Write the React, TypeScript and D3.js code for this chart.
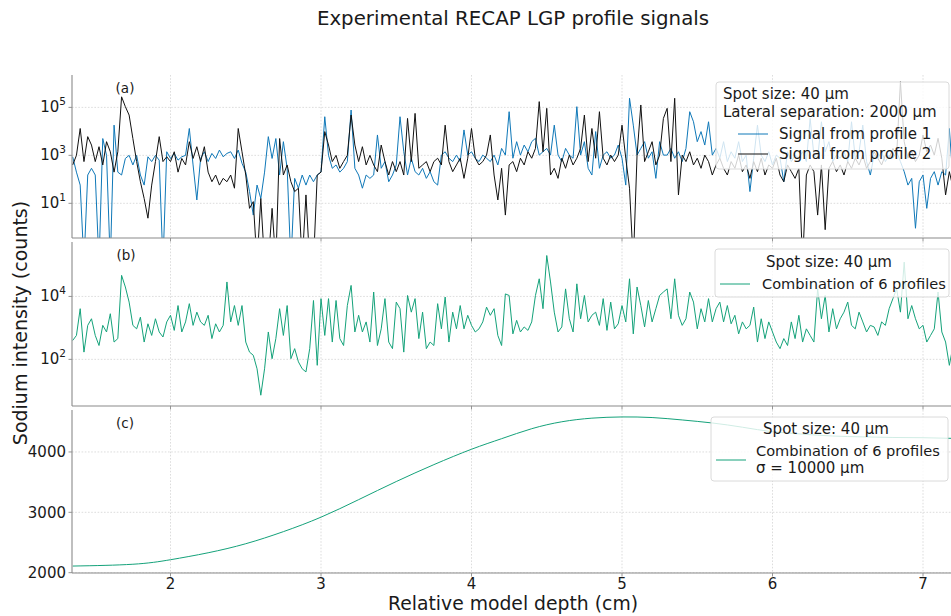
import React from "react";
import * as d3 from "d3";

// ---------------- DATA ----------------
// Sampling of the profiles along the relative model depth (cm)
const DEPTH_START = 1.35;
const DEPTH_STEP = 0.025;

// log10(counts) of signal from profile 1 (values below the axis = dropouts)
const profile1Log = [
  2.94, 2.3, 1.76, -1.5, 2.18, 2.46, 2.18, -1.5, 3.7, 3.0,
  -1.5, 4.26, 2.3, 2.18, 2.87, 3.0, 2.6, 3.0, 2.18, 1.76,
  2.94, 2.74, 3.0, 2.8, -1.5, 3.15, 2.87, 3.08, 2.8, 2.94,
  3.0, 4.12, 2.6, 1.14, 2.87, 3.15, 2.74, 3.08, 2.87, 3.22,
  2.94, 3.08, 3.15, 2.87, 3.22, 2.67, 2.3, 1.49, 0.51, 1.76,
  1.2, 2.3, 3.78, 2.87, 3.7, 2.18, 3.57, 2.46, -1.5, 2.04,
  1.63, 2.18, 1.76, 2.18, 1.9, 2.18, 2.3, 4.61, 3.0, 2.46,
  2.6, 2.3, 2.46, 2.74, 4.89, 2.46, 2.18, 1.63, 2.18, 2.04,
  2.18, 3.85, 2.46, 2.74, 1.9, 2.18, 2.6, 4.61, 3.15, 2.18,
  2.88, 2.32, 2.18, 2.46, 2.04, 2.32, 1.9, 1.76, 3.01, 3.15,
  2.88, 2.74, 3.01, 2.74, 4.06, 3.01, 3.15, 2.88, 2.74, 3.01,
  2.88, 2.74, 3.01, 2.6, 3.29, 3.01, 4.82, 2.88, 3.57, 3.01,
  3.43, 3.15, 3.57, 3.71, 3.01, 3.15, 3.29, 3.01, 4.26, 3.01,
  2.74, 3.29, 3.01, 2.88, 5.03, 3.01, 3.57, 2.46, 2.18, 3.99,
  2.46, 3.01, 3.15, 2.88, 3.01, 3.43, 2.88, 1.76, 5.38, 4.26,
  3.01, 3.29, 3.57, 2.88, 3.15, 2.04, 3.57, 3.01,
  3.01, 3.29, 2.88, 3.15, 2.74, 3.29, 4.82, 4.4, 3.57, 3.99,
  3.43, 4.4, 3.01, 3.29, 2.88, 3.57, 2.74, 3.15, 2.88, 3.57,
  2.74, 3.01, 1.49, 2.88, 4.26, 3.01, 2.74, 3.15, 2.6, 3.01,
  2.88, 1.9, 3.15, 2.74, 3.01, 2.88, 3.15, 2.74, 4.54, 3.01,
  2.88, 4.4, 3.15, 3.57, 2.74, 3.01, 2.88, 3.15, 2.74, 4.4,
  2.88, 3.15, 4.26, 2.74, 2.18, 3.01, 2.88, 3.15, 2.74, 3.01,
  2.88, 3.15, 2.74, 2.32, 1.76, 2.04, -0.04, 1.9, 2.18, 0.79,
  2.04, 2.32, 1.76, 2.32, 2.18, 4.12, 1.9,
];

// log10(counts) of signal from profile 2
const profile2Log = [
  2.6, 3.0, 4.12, 2.74, 3.78, 3.43, 2.74, 3.36, 2.6, 3.57,
  3.15, 2.3, 3.15, 5.44, 5.03, 4.68, 3.7, 2.74, 1.9, 1.2,
  0.38, 1.76, 2.74, 3.78, 2.74, 2.94, 2.74, 3.15, 2.3, 2.87,
  2.6, 3.57, 2.87, 3.36, 2.74, 3.36, 2.3, 1.9, 2.18, 1.76,
  2.04, 1.9, 2.18, 1.63, 4.12, 3.15, 2.18, 0.79, 1.07, -1.5,
  1.2, -1.5, -1.5, 0.79, -1.5, 3.7, 2.18, 2.6, 1.9, 1.49,
  1.63, -1.5, 1.35, -1.5, -1.5, 2.18, 2.3, 3.99, 3.43, 2.74,
  3.0, 2.46, 2.74, 3.0, 4.68, 3.43, 2.74, 3.36, 2.6, 3.0,
  2.6, 2.32, 3.43, 2.74, 2.18, 2.74, 2.32, 2.74, 2.18, 4.54,
  2.74, 4.75, 2.46, 2.6, 2.74, 2.32, 2.74, 2.88, 2.6, 4.26,
  2.74, 2.32, 2.6, 2.88, 2.04, 2.88, 4.12, 2.88, 2.6, 2.74,
  3.01, 3.85, 2.18, 1.14, 2.46, 0.51, 2.6, 2.74, 2.32, 2.88,
  2.6, 3.15, 2.88, 3.29, 5.24, 3.15, 4.96, 2.18, 2.46, 2.04,
  2.88, 2.46, 3.01, 2.6, 2.88, 3.29, 4.68, 2.74, 4.12, 2.88,
  4.82, 2.88, 2.6, 3.01, 2.74, 3.01, 4.26, 2.88, 1.63, -1.5,
  3.01, 5.1, 2.74, 3.15, 3.57, 2.6, 3.01, 4.54,
  4.96, 2.74, 5.38, 1.35, 3.01, 2.74, 3.15, 2.6, 2.88, 2.46,
  3.01, 2.74, 2.18, 2.6, 2.88, 2.46, 2.18, 2.74, 2.46, 3.01,
  2.32, 2.6, 2.04, 2.74, 2.32, 2.88, 2.18, 2.6, 2.46, 2.88,
  2.18, 1.9, 2.6, 2.32, 2.04, 2.46, -1.5, 2.18, 2.6, 2.32,
  0.51, 2.6, -0.1, 2.46, 2.74, 2.32, 2.6, 2.18, 2.74, 2.46,
  2.88, 2.6, 3.01, 2.46, 2.74, 3.15, 2.88, 2.6, 3.01, 2.88,
  3.29, 3.01, 6.07, 3.57, 2.88, 3.15, 2.74, 3.01, 3.85, 3.15,
  3.43, 3.01, 3.71, 2.88, 1.35, 2.32, 1.63,
];

// log10(counts) of the combination of 6 profiles
const combinedLog = [
  2.6, 2.76, 3.61, 2.23, 3.08, 3.29, 2.76, 2.44, 3.08, 2.87,
  3.45, 2.55, 2.66, 4.67, 4.3, 3.82, 3.08, 2.97, 3.34, 2.55,
  3.13, 2.76, 3.29, 2.87, 2.71, 3.19, 3.4, 2.92, 3.71, 2.87,
  3.19, 3.77, 3.08, 3.5, 3.19, 3.08, 3.4, 2.66, 3.13, 2.87,
  3.08, 4.46, 3.19, 3.71, 3.08, 3.71, 2.55, 2.23, 2.13, 1.7,
  0.86, 1.7, 2.87, 2.02, 2.66, 3.61, 2.76, 3.71, 2.02, 2.34,
  1.92, 1.7, 1.6, 2.34, 3.87, 1.81, 3.93, 2.76, 3.93, 2.55,
  3.87, 2.66, 2.44, 3.71, 4.35, 2.87, 3.4, 2.87, 3.19, 2.55,
  4.14, 2.44, 2.97, 3.93, 2.55, 2.34, 3.82, 3.61, 2.23, 4.03,
  3.5, 3.93, 2.66, 3.5, 2.34, 2.55, 2.44, 3.77, 2.97, 3.98,
  2.55, 3.5, 2.97, 3.71, 2.97, 3.4, 3.08, 2.87, 2.97, 3.19,
  3.66, 3.4, 3.61, 2.76, 2.44, 4.08, 4.03, 2.81, 3.24, 2.87,
  3.03, 2.92, 3.19, 4.03, 4.56, 3.61, 5.3, 4.46, 3.5, 2.87,
  3.03, 4.24, 3.29, 2.87, 4.4, 3.29, 4.03, 3.19, 3.4, 3.5,
  3.08, 3.93, 2.92, 3.82, 2.97, 3.13, 3.71, 3.19, 4.56, 2.81,
  4.3, 3.71, 3.03, 3.87, 3.19, 3.61, 4.03, 4.14,
  4.24, 3.29, 4.56, 3.4, 3.08, 3.29, 4.14, 3.82, 2.97, 3.61,
  3.19, 3.93, 3.19, 3.61, 3.82, 3.19, 3.71, 3.13, 3.4, 2.81,
  3.19, 2.97, 3.08, 3.66, 2.55, 3.29, 2.66, 3.19, 2.87, 2.55,
  2.34, 2.66, 2.44, 3.19, 2.66, 3.4, 2.55, 2.97, 2.76, 2.55,
  4.24, 3.29, 4.03, 2.87, 3.61, 2.97, 3.29, 3.5, 3.82, 3.08,
  2.97, 3.5, 3.19, 2.87, 3.08, 3.03, 2.76, 3.19, 3.08, 3.61,
  3.93, 4.24, 3.5, 5.09, 3.29, 3.71, 3.29, 2.97, 3.08, 2.55,
  2.76, 2.97, 4.14, 2.87, 2.55, 1.81, 2.44,
];

// Gaussian-smoothed combination (sigma = 10000 µm)
const smoothDepth = [1.35, 1.75, 2.0, 2.25, 2.5, 2.75, 3.0, 3.25, 3.5, 3.75, 4.0, 4.2, 4.4, 4.6, 4.8, 5.0, 5.2, 5.4, 5.6, 5.8, 6.0, 6.2, 6.4, 6.6, 6.8, 7.0, 7.2];
const smoothCounts = [2110, 2140, 2215, 2330, 2480, 2680, 2920, 3210, 3510, 3790, 4045, 4220, 4385, 4500, 4560, 4580, 4570, 4530, 4480, 4410, 4335, 4295, 4264, 4250, 4240, 4236, 4225];

const xTickValues = [2, 3, 4, 5, 6, 7];
const panelAExponents = [1, 3, 5];
const panelBExponents = [2, 4];
const panelCTicks = [2000, 3000, 4000];

const TITLE = "Experimental RECAP LGP profile signals";
const X_LABEL = "Relative model depth (cm)";
const Y_LABEL = "Sodium intensity (counts)";

// ---------------- STYLE ----------------
const FONT = "DejaVu Sans, sans-serif";
const BLUE = "#0f78b8";
const BLACK = "#111111";
const GREEN = "#14a27a";
const SPINE = "#8a8a8a";
const GRID = "#d4d4d4";
const TEXT = "#1a1a1a";

type Pt = [number, number];

export default function App() {
  const left = 72;
  const right = 951;
  const x = d3.scaleLinear().domain([1.3455, 7.186]).range([left, right]);

  const panelA = { top: 75, bottom: 238 };
  const panelB = { top: 242, bottom: 406 };
  const panelC = { top: 410, bottom: 573 };

  const yA = d3.scaleLog().domain([Math.pow(10, -0.446), Math.pow(10, 6.35)]).range([panelA.bottom, panelA.top]);
  const yB = d3.scaleLog().domain([Math.pow(10, 0.517), Math.pow(10, 5.73)]).range([panelB.bottom, panelB.top]);
  const yC = d3.scaleLinear().domain([1995, 4695]).range([panelC.bottom, panelC.top]);

  const toPts = (logs: number[]): Pt[] =>
    logs.map((v, i) => [DEPTH_START + DEPTH_STEP * i, Math.pow(10, v)]);

  const lineA = d3.line<Pt>().x((d) => x(d[0])).y((d) => yA(d[1]));
  const lineB = d3.line<Pt>().x((d) => x(d[0])).y((d) => yB(d[1]));
  const lineC = d3
    .line<Pt>()
    .x((d) => x(d[0]))
    .y((d) => yC(d[1]))
    .curve(d3.curveNatural);

  const p1 = lineA(toPts(profile1Log)) || "";
  const p2 = lineA(toPts(profile2Log)) || "";
  const pb = lineB(toPts(combinedLog)) || "";
  const pc = lineC(smoothDepth.map((d, i) => [d, smoothCounts[i]] as Pt)) || "";

  const xGrid = (p: { top: number; bottom: number }) =>
    xTickValues.map((t) => (
      <line key={"xg" + t} x1={x(t)} x2={x(t)} y1={p.top} y2={p.bottom} stroke={GRID} strokeWidth={0.8} strokeDasharray="1.6,1.6" />
    ));
  const xTickMarks = (p: { top: number; bottom: number }) =>
    xTickValues.map((t) => (
      <line key={"xt" + t} x1={x(t)} x2={x(t)} y1={p.bottom} y2={p.bottom + 3.5} stroke={SPINE} strokeWidth={0.9} />
    ));
  const spines = (p: { top: number; bottom: number }) => (
    <g>
      <line x1={left} x2={left} y1={p.top} y2={p.bottom} stroke={SPINE} strokeWidth={1.1} />
      <line x1={left} x2={right} y1={p.bottom} y2={p.bottom} stroke={SPINE} strokeWidth={1.1} />
    </g>
  );

  const logTicks = (exps: number[], y: d3.ScaleLogarithmic<number, number>) =>
    exps.map((e) => {
      const yy = y(Math.pow(10, e));
      return (
        <g key={"lt" + e}>
          <line x1={left} x2={right} y1={yy} y2={yy} stroke={GRID} strokeWidth={0.8} strokeDasharray="1.6,1.6" />
          <line x1={left - 3.5} x2={left} y1={yy} y2={yy} stroke={SPINE} strokeWidth={0.9} />
          <text x={left - 6} y={yy + 5} textAnchor="end" fontSize={15} fill={TEXT} fontFamily={FONT}>
            10<tspan fontSize={10.5} dy={-7}>{e}</tspan>
          </text>
        </g>
      );
    });

  const legendBox = (x0: number, y0: number, w: number, h: number) => (
    <rect x={x0} y={y0} width={w} height={h} rx={3} fill="white" fillOpacity={0.8} stroke="#d6d6d6" strokeWidth={0.9} />
  );

  return (
    <svg width={951} height={616} style={{ position: "absolute", left: 0, top: 0, background: "white" }} fontFamily={FONT}>
      <defs>
        <clipPath id="clipA"><rect x={left} y={panelA.top} width={right - left} height={panelA.bottom - panelA.top} /></clipPath>
        <clipPath id="clipB"><rect x={left} y={panelB.top} width={right - left} height={panelB.bottom - panelB.top} /></clipPath>
        <clipPath id="clipC"><rect x={left} y={panelC.top} width={right - left} height={panelC.bottom - panelC.top} /></clipPath>
      </defs>
      <rect x={0} y={0} width={951} height={616} fill="white" />

      <text x={513} y={25} textAnchor="middle" fontSize={19.8} fill={TEXT}>{TITLE}</text>

      {/* Panel (a) */}
      {xGrid(panelA)}
      {logTicks(panelAExponents, yA)}
      <g clipPath="url(#clipA)">
        <path d={p1} fill="none" stroke={BLUE} strokeWidth={1} />
        <path d={p2} fill="none" stroke={BLACK} strokeWidth={1} />
      </g>
      {spines(panelA)}
      {xTickMarks(panelA)}
      <text x={125} y={93} textAnchor="middle" fontSize={13.5} fill={TEXT}>(a)</text>
      {legendBox(716, 82, 233, 87)}
      <text x={723} y={99} fontSize={15} fill={TEXT}>Spot size: 40 µm</text>
      <text x={723} y={117} fontSize={15} fill={TEXT}>Lateral separation: 2000 µm</text>
      <line x1={738} x2={768} y1={134} y2={134} stroke={BLUE} strokeWidth={1} />
      <text x={779} y={139} fontSize={15} fill={TEXT}>Signal from profile 1</text>
      <line x1={738} x2={768} y1={154} y2={154} stroke={BLACK} strokeWidth={1} />
      <text x={779} y={159} fontSize={15} fill={TEXT}>Signal from profile 2</text>

      {/* Panel (b) */}
      {xGrid(panelB)}
      {logTicks(panelBExponents, yB)}
      <g clipPath="url(#clipB)">
        <path d={pb} fill="none" stroke={GREEN} strokeWidth={1} />
      </g>
      {spines(panelB)}
      {xTickMarks(panelB)}
      <text x={126} y={260} textAnchor="middle" fontSize={13.5} fill={TEXT}>(b)</text>
      {legendBox(715, 249, 234, 48)}
      <text x={829} y={267} textAnchor="middle" fontSize={15} fill={TEXT}>Spot size: 40 µm</text>
      <line x1={720} x2={750} y1={284} y2={284} stroke={GREEN} strokeWidth={1} />
      <text x={762} y={289} fontSize={14.6} fill={TEXT}>Combination of 6 profiles</text>

      {/* Panel (c) */}
      {xGrid(panelC)}
      {panelCTicks.map((t) => (
        <g key={"ct" + t}>
          <line x1={left} x2={right} y1={yC(t)} y2={yC(t)} stroke={GRID} strokeWidth={0.8} strokeDasharray="1.6,1.6" />
          <line x1={left - 3.5} x2={left} y1={yC(t)} y2={yC(t)} stroke={SPINE} strokeWidth={0.9} />
          <text x={left - 6} y={yC(t) + 5.5} textAnchor="end" fontSize={15} fill={TEXT}>{t}</text>
        </g>
      ))}
      <g clipPath="url(#clipC)">
        <path d={pc} fill="none" stroke={GREEN} strokeWidth={1} />
      </g>
      {spines(panelC)}
      {xTickMarks(panelC)}
      {xTickValues.map((t) => (
        <text key={"xl" + t} x={x(t)} y={589} textAnchor="middle" fontSize={15} fill={TEXT}>{t}</text>
      ))}
      <text x={125} y={428} textAnchor="middle" fontSize={13.5} fill={TEXT}>(c)</text>
      {legendBox(711, 417, 237, 64)}
      <text x={826} y={434} textAnchor="middle" fontSize={15} fill={TEXT}>Spot size: 40 µm</text>
      <line x1={716} x2={746} y1={460} y2={460} stroke={GREEN} strokeWidth={1} />
      <text x={756} y={456} fontSize={14.6} fill={TEXT}>Combination of 6 profiles</text>
      <text x={756} y={473} fontSize={15} fill={TEXT}>σ = 10000 µm</text>

      {/* Axis labels */}
      <text x={513} y={610} textAnchor="middle" fontSize={18.8} fill={TEXT}>{X_LABEL}</text>
      <text transform="translate(27,323) rotate(-90)" textAnchor="middle" fontSize={19} fill={TEXT}>{Y_LABEL}</text>
    </svg>
  );
}
